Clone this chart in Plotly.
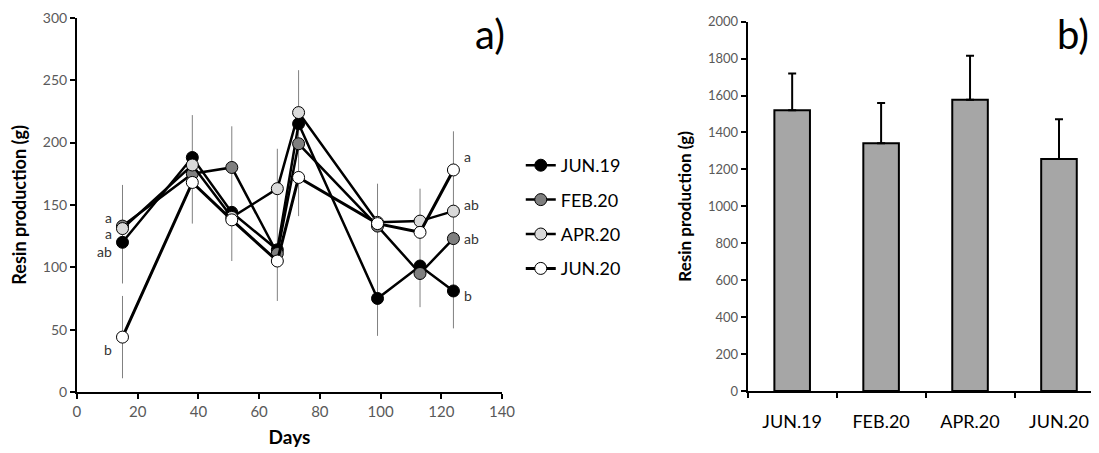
import plotly.graph_objects as go

# --- panel a) resin production per collection day ---
days = [15, 38, 51, 66, 73, 99, 113, 124]
jun19 = [120, 188, 144, 114, 215, 75, 101, 81]
feb20 = [133, 175, 180, 111, 199, 133, 95, 123]
apr20 = [131, 182, 140, 163, 224, 136, 137, 145]
jun20 = [44, 168, 138, 105, 172, 135, 128, 178]

# vertical error bars (centre and half-length), two at day 15
err_days = [15, 15, 38, 51, 66, 73, 99, 113, 124]
err_mid = [126.5, 44, 178.5, 159, 134, 199.5, 106, 115.5, 130]
err_half = [39.5, 33, 43.5, 54, 61, 58.5, 61, 47.5, 79]

# significance letters
lab_x = [15, 15, 15, 15, 124, 124, 124, 124]
lab_y = [140, 127, 113, 34, 189, 150, 123, 77]
lab_txt = ["a", "a", "ab", "b", "a", "ab", "ab", "b"]
lab_side = ["left"] * 4 + ["right"] * 4

# --- panel b) total production per campaign ---
campaigns = ["JUN.19", "FEB.20", "APR.20", "JUN.20"]
totals = [1520, 1342, 1578, 1256]
totals_err = [200, 218, 238, 216]

FONT = "Lato, 'Open Sans', sans-serif"
GREY = "#595959"

series = [
    ("JUN.19", jun19, "#000000", 2.5),
    ("FEB.20", feb20, "#7f7f7f", 2.5),
    ("APR.20", apr20, "#d9d9d9", 2.5),
    ("JUN.20", jun20, "#ffffff", 3),
]

fig = go.Figure()

fig.add_trace(go.Scatter(
    x=err_days, y=err_mid, mode="markers",
    marker=dict(size=1, color="rgba(0,0,0,0)"),
    error_y=dict(type="data", array=err_half, color="#808080", thickness=1, width=0),
    showlegend=False, hoverinfo="skip", xaxis="x", yaxis="y",
))

for name, vals, col, lw in series:
    fig.add_trace(go.Scatter(
        x=days, y=vals, name=name, mode="lines+markers",
        line=dict(color="black", width=lw),
        marker=dict(size=12, color=col, line=dict(color="black", width=1)),
        legendgroup=name, xaxis="x", yaxis="y",
    ))

fig.add_trace(go.Bar(
    x=campaigns, y=totals, xaxis="x2", yaxis="y2",
    marker=dict(color="#a6a6a6", line=dict(color="black", width=2)),
    error_y=dict(type="data", array=totals_err, arrayminus=[0] * 4, symmetric=False,
                 color="black", thickness=2, width=4),
    width=0.4, showlegend=False,
))

for x, y, t, side in zip(lab_x, lab_y, lab_txt, lab_side):
    fig.add_annotation(
        x=x, y=y, xref="x", yref="y", text=t, showarrow=False,
        xanchor="right" if side == "left" else "left",
        xshift=-8 if side == "left" else 9,
        font=dict(family=FONT, size=14, color="#333333"),
    )

fig.add_annotation(x=0.442, y=1.0, xref="paper", yref="paper", text="a)",
                   showarrow=False, xanchor="center", yanchor="top",
                   font=dict(family=FONT, size=40, color="black"))
fig.add_annotation(x=0.976, y=1.0, xref="paper", yref="paper", text="b)",
                   showarrow=False, xanchor="center", yanchor="top",
                   font=dict(family=FONT, size=40, color="black"))

axis_common = dict(showline=True, linecolor="black", linewidth=2, ticks="outside",
                   ticklen=5, tickwidth=2, tickcolor="black", showgrid=False,
                   zeroline=False, mirror=False, automargin=False)

# page body adds ~8px offset, so the figure is sized a bit smaller than the window
fig.update_layout(
    width=1091, height=445,
    margin=dict(l=0, r=0, t=0, b=0),
    paper_bgcolor="white", plot_bgcolor="white",
    font=dict(family=FONT, color=GREY),
    xaxis=dict(domain=[0.0632, 0.4528], range=[0, 140], dtick=20,
               tickfont=dict(size=15, color=GREY),
               title=dict(text="<b>Days</b>", font=dict(size=19, color="black"), standoff=12),
               anchor="y", **axis_common),
    yaxis=dict(domain=[0.1371, 0.978], range=[0, 300], dtick=50,
               tickfont=dict(size=14, color=GREY),
               title=dict(text="<b>Resin production (g)</b>", font=dict(size=18, color="black"),
                          standoff=12),
               anchor="x", **axis_common),
    xaxis2=dict(domain=[0.678, 1.0], range=[-0.5, 3.45], type="category",
                tickson="boundaries", ticklabelstandoff=13,
                tickfont=dict(size=18, color="black"),
                anchor="y2", **axis_common),
    yaxis2=dict(domain=[0.1393, 0.9692], range=[0, 2000], dtick=200,
                tickfont=dict(size=13, color=GREY),
                title=dict(text="<b>Resin production (g)</b>", font=dict(size=17, color="black"),
                           standoff=12),
                anchor="x2", **axis_common),
    legend=dict(x=0.470, y=0.6876, xanchor="left", yanchor="top",
                font=dict(family=FONT, size=18, color="black"),
                tracegroupgap=8, bgcolor="rgba(0,0,0,0)"),
    showlegend=True,
)

fig.write_html("out.html")
